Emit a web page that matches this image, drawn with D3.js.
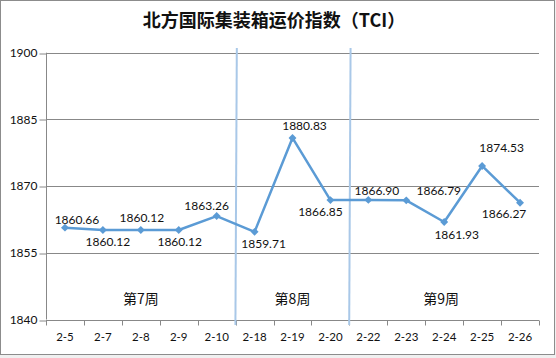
<!DOCTYPE html>
<html><head><meta charset="utf-8">
<script src="https://cdn.jsdelivr.net/npm/d3@7"></script>
<style>
html,body{margin:0;padding:0;background:#f0f0f0;}
svg{display:block;}
</style></head>
<body>
<script>
const title = "北方国际集装箱运价指数（TCI）";
const categories = ["2-5","2-7","2-8","2-9","2-10","2-18","2-19","2-20","2-22","2-23","2-24","2-25","2-26"];
const values = [1860.66,1860.12,1860.12,1860.12,1863.26,1859.71,1880.83,1866.85,1866.90,1866.79,1861.93,1874.53,1866.27];
const yTicks = [1840,1855,1870,1885,1900];
const weekLabels = ["第7周","第8周","第9周"];
const weekSpans = [[0,4],[5,7],[8,12]];   // category index ranges per week
const weekDividers = [5,8];               // category index where a new week starts

// label offsets (layout only)
const labelDx = [12,5,1,1,-10,9,12,-10,8.5,32.5,12.5,19.5,-16];
const labelDy = [-8,11.7,-12.7,11.7,-10,12,-12,11.6,-9,-9.4,12.3,-18.3,11.4];

const W = 556, H = 358;
const pLeft = 46, pRight = 539, pTop = 52.7, pBottom = 319.5;

const svg = d3.select("body").append("svg").attr("width", W).attr("height", H);
svg.append("rect").attr("x",0.5).attr("y",0.5).attr("width",554).attr("height",354)
  .attr("fill","#fff").attr("stroke","#8c8c8c").attr("stroke-width",1);

const x = d3.scaleBand().domain(categories).range([pLeft,pRight]).padding(0);
const y = d3.scaleLinear().domain([1840,1900]).range([pBottom,pTop]);
const cx = c => x(c) + x.bandwidth()/2;

// title
svg.append("text").attr("x",274).attr("y",26.5).attr("text-anchor","middle")
  .attr("font-family","'Noto Sans CJK SC', sans-serif").attr("font-weight","bold")
  .attr("font-size",18).attr("fill","#111").text(title);

// gridlines
svg.append("g").selectAll("line").data(yTicks.filter(t=>t!==1840)).join("line")
  .attr("x1",pLeft).attr("x2",pRight).attr("y1",d=>Math.round(y(d))+0.5).attr("y2",d=>Math.round(y(d))+0.5)
  .attr("stroke","#888").attr("stroke-width",1);

// y axis
const yAxis = svg.append("g").attr("transform",`translate(${pLeft+0.5},0)`)
  .call(d3.axisLeft(y).tickValues(yTicks).tickSize(7).tickPadding(2).tickFormat(d3.format("d")));
yAxis.select(".domain").attr("stroke","#888").attr("d",`M0,${pTop}V${pBottom}`);
yAxis.selectAll(".tick line").attr("stroke","#888").attr("transform",d=>`translate(0,${Math.round(y(d))+0.5-y(d)})`);
yAxis.selectAll(".tick text").attr("font-family","Lato, 'Open Sans', sans-serif").attr("font-size",12).attr("fill","#111");

// x axis
const xAxis = svg.append("g").attr("transform",`translate(0,${Math.round(pBottom)+0.5})`)
  .call(d3.axisBottom(x).tickSize(0).tickPadding(12));
xAxis.select(".domain").attr("stroke","#888").attr("d",`M${pLeft},0H${pRight}`);
xAxis.selectAll(".tick text").attr("font-family","Lato, 'Open Sans', sans-serif").attr("font-size",11.5).attr("fill","#111");
const bounds = categories.map(c=>x(c)).concat([pRight]);
xAxis.append("g").selectAll("line").data(bounds).join("line")
  .attr("x1",d=>Math.round(d)+0.5).attr("x2",d=>Math.round(d)+0.5).attr("y1",0).attr("y2",5)
  .attr("stroke","#888");

// week dividers
svg.append("g").selectAll("line").data(weekDividers).join("line")
  .attr("x1",i=>x(categories[i])+1.2).attr("x2",i=>x(categories[i])-0.2)
  .attr("y1",48).attr("y2",325)
  .attr("stroke","#a9c8e8").attr("stroke-width",2);

// week labels
svg.append("g").selectAll("text").data(weekLabels).join("text")
  .attr("x",(d,i)=>(x(categories[weekSpans[i][0]]) + x(categories[weekSpans[i][1]]) + x.bandwidth())/2 + [0,0,-3][i])
  .attr("y",303.5).attr("text-anchor","middle")
  .attr("font-family","'Noto Sans CJK SC', sans-serif").attr("font-size",14).attr("fill","#111")
  .text(d=>d);

// line
const line = d3.line().x((d,i)=>cx(categories[i])).y(d=>y(d));
svg.append("path").datum(values).attr("d",line).attr("fill","none")
  .attr("stroke","#5b9bd5").attr("stroke-width",2.5).attr("stroke-linejoin","round");

// markers
svg.append("g").selectAll("path").data(values).join("path")
  .attr("d",d3.symbol().type(d3.symbolDiamond2).size(40))
  .attr("transform",(d,i)=>`translate(${cx(categories[i])},${y(d)})`)
  .attr("fill","#5b9bd5");

// value labels
svg.append("g").selectAll("text").data(values).join("text")
  .attr("x",(d,i)=>cx(categories[i])+labelDx[i])
  .attr("y",(d,i)=>y(d)+labelDy[i]+4.3)
  .attr("text-anchor","middle")
  .attr("font-family","Lato, 'Open Sans', sans-serif").attr("font-size",12).attr("fill","#111")
  .text(d=>d.toFixed(2));
</script>
</body></html>
